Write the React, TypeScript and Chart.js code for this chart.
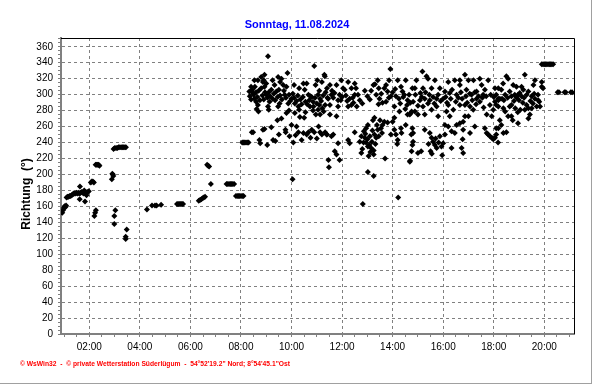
import React, { useEffect, useRef } from 'react';
import { Chart, registerables } from 'chart.js';

Chart.register(...registerables);

const TITLE = 'Sonntag, 11.08.2024';
const Y_TITLE = 'Richtung  (°)';
const FOOTER = '© WsWin32  -  © private Wetterstation Süderlügum  -  54°52\'19.2" Nord; 8°54\'45.1"Ost';

// axis ranges (hours of day / degrees)
const X_MIN = 0.88;
const X_MAX = 21.175;
const Y_MIN = 0;
const Y_MAX = 371;

// tick labels
const X_LABEL_HOURS = [2, 4, 6, 8, 10, 12, 14, 16, 18, 20];
const X_LABELS = ['02:00', '04:00', '06:00', '08:00', '10:00', '12:00', '14:00', '16:00', '18:00', '20:00'];
const Y_LABEL_VALUES = [0, 20, 40, 60, 80, 100, 120, 140, 160, 180, 200, 220, 240, 260, 280, 300, 320, 340, 360];

// wind direction readings: [hour of day, degrees]
const night: [number, number][] = [
  [0.93, 152], [0.96, 155], [0.99, 158], [1.02, 160], [1.05, 159], [1.08, 161],
  [1.1, 171], [1.14, 172], [1.18, 172], [1.22, 173], [1.26, 173], [1.3, 174], [1.34, 175], [1.38, 176],
  [1.42, 176], [1.46, 176], [1.5, 177], [1.54, 176], [1.58, 177], [1.62, 176], [1.66, 177], [1.7, 178],
  [1.74, 177], [1.78, 176], [1.82, 177], [1.86, 178], [1.9, 177], [1.94, 178], [1.98, 179],
  [1.63, 185], [1.62, 169], [1.83, 166], [1.89, 174], [1.8, 180],
  [2.06, 190], [2.1, 191], [2.14, 191], [2.18, 190],
  [2.25, 212], [2.29, 212], [2.33, 212], [2.37, 212], [2.4, 211],
  [2.2, 148], [2.23, 152], [2.26, 155],
  [2.89, 194], [2.91, 201], [2.93, 200], [2.95, 198],
  [2.99, 148], [2.99, 138], [3.03, 155],
  [2.96, 232], [3.01, 233], [3.06, 233], [3.11, 233], [3.16, 234], [3.21, 234], [3.26, 234],
  [3.31, 234], [3.36, 234], [3.41, 234], [3.45, 234],
  [3.48, 131], [3.44, 122], [3.44, 119],
];

const morning: [number, number][] = [
  [4.28, 156], [4.48, 161], [4.6, 161], [4.66, 161], [4.84, 162],
  [5.47, 163], [5.51, 163], [5.55, 163], [5.59, 163], [5.63, 163], [5.67, 163], [5.71, 163],
  [6.33, 167], [6.38, 168], [6.43, 169], [6.48, 170], [6.53, 171], [6.58, 172],
  [6.66, 212], [6.7, 211], [6.74, 210],
  [6.81, 188],
  [7.43, 188], [7.48, 188], [7.53, 188], [7.58, 188], [7.63, 188], [7.68, 188], [7.73, 188],
  [7.8, 173], [7.85, 173], [7.9, 173], [7.95, 173], [8.0, 173], [8.05, 173], [8.1, 173],
  [8.05, 240], [8.1, 240], [8.15, 240], [8.2, 240], [8.25, 240], [8.3, 240],
  [8.48, 253],
];

const forenoon: [number, number][] = [
  [9.07, 348], [10.9, 336], [10.04, 194],
  [8.93, 325], [8.8, 322], [8.53, 318], [8.67, 318], [8.87, 316], [8.4, 310], [8.33, 304], [8.47, 302],
  [8.53, 295], [8.6, 291], [8.67, 287], [8.69, 279], [8.8, 308], [8.93, 310], [9.0, 300], [9.2, 306],
  [9.13, 291], [9.07, 285], [9.33, 312], [9.47, 322], [9.6, 320], [9.84, 327], [9.67, 312], [9.73, 300],
  [9.53, 289], [9.47, 285], [9.87, 289], [10.0, 295], [10.13, 289], [10.27, 285], [10.47, 314], [10.6, 314],
  [10.67, 300], [10.8, 297], [10.73, 285], [10.87, 285], [11.0, 289], [11.13, 295], [11.2, 316], [11.3, 325],
  [11.4, 308], [11.33, 287], [11.27, 279], [10.96, 275], [11.13, 275],
  [9.44, 268], [9.6, 270], [9.8, 277], [10.33, 272], [10.5, 271], [10.13, 277],
  [8.35, 298], [8.4, 294], [8.45, 306], [8.5, 300], [8.55, 310], [8.6, 303], [8.65, 297], [8.7, 305],
  [8.75, 293], [8.85, 299], [8.9, 294], [8.95, 303], [9.05, 296], [9.1, 303], [9.15, 298], [9.25, 295],
  [9.3, 301], [9.35, 293], [9.4, 304], [9.45, 297], [9.5, 306], [9.55, 299], [9.62, 294], [9.7, 305],
  [9.78, 296], [9.9, 300], [9.95, 292], [10.05, 301], [10.1, 296], [10.2, 292], [10.25, 299], [10.35, 294],
  [10.4, 288], [10.45, 297], [10.55, 291], [10.62, 288], [10.7, 293], [10.75, 298], [10.85, 291], [10.93, 296],
  [11.05, 300], [11.1, 287], [11.17, 292], [11.25, 299], [11.35, 303], [11.42, 296],
  [8.62, 282], [9.1, 281], [9.9, 280], [10.3, 281], [10.55, 278], [10.85, 280], [11.05, 281], [11.22, 283],
  [8.9, 318], [9.0, 314], [9.25, 318], [9.55, 316], [9.8, 310], [10.1, 312], [10.3, 308], [10.52, 306],
  [10.95, 312], [11.02, 318], [11.1, 305],
  [8.43, 253], [8.87, 256], [8.93, 257], [9.2, 259], [8.73, 243], [8.76, 239], [9.04, 237], [9.27, 243],
  [9.36, 242], [9.76, 256], [9.77, 253], [10.07, 240], [10.2, 260], [10.27, 253], [10.16, 249], [10.4, 243],
  [10.47, 252], [10.67, 253], [10.6, 250], [10.8, 256], [10.9, 253], [11.07, 260], [11.13, 253], [11.2, 250],
  [11.33, 253], [11.4, 250],
  [9.5, 250], [9.92, 248], [10.0, 262], [10.75, 246], [11.0, 245],
];

const midday: [number, number][] = [
  [13.91, 332], [11.32, 323], [11.52, 312], [11.78, 312], [11.97, 318], [12.24, 316], [12.5, 314], [12.04, 308],
  [12.1, 306], [12.37, 308], [12.55, 308], [12.5, 300], [12.63, 300], [12.7, 293], [12.3, 295], [12.24, 285],
  [12.37, 287], [11.84, 293], [11.95, 293], [11.58, 300], [11.45, 295], [11.52, 287], [11.84, 285], [11.52, 275],
  [11.78, 273], [13.0, 298], [13.24, 312], [13.41, 318], [13.45, 308], [13.35, 300], [13.48, 295], [13.44, 288],
  [13.67, 308], [13.74, 312], [13.8, 304], [13.86, 318], [13.74, 291], [13.93, 298], [14.13, 298], [14.07, 285],
  [14.2, 318], [14.33, 310], [14.39, 304], [14.46, 300], [14.52, 318], [14.59, 293], [14.57, 287], [14.27, 279],
  [14.07, 271], [14.0, 266], [14.59, 275], [14.72, 277], [14.78, 308],
  [11.6, 305], [11.65, 296], [11.7, 302], [11.9, 300], [12.0, 297], [12.15, 299], [12.2, 292], [12.42, 296],
  [12.45, 290], [12.58, 285], [12.8, 289], [12.9, 305], [13.1, 294], [13.15, 305], [13.3, 313], [13.55, 301],
  [13.6, 290], [13.85, 296], [14.0, 303], [14.1, 307], [14.25, 295], [14.3, 289], [14.42, 297], [14.5, 282],
  [14.65, 300], [14.7, 290],
  [13.02, 203], [13.25, 198], [11.48, 209], [11.46, 218], [12.82, 163], [14.22, 171],
  [11.71, 229], [11.78, 225], [11.9, 218], [11.65, 250], [11.39, 250], [11.58, 248], [11.84, 239], [12.24, 243],
  [12.3, 239], [12.5, 253], [12.7, 241], [12.76, 227], [12.76, 248], [12.86, 254], [12.95, 258], [13.02, 262],
  [13.22, 268], [13.28, 271], [12.9, 246], [12.95, 240], [13.02, 235], [13.08, 237], [13.15, 233], [13.05, 223],
  [13.25, 225], [13.25, 230], [13.28, 250], [13.41, 256], [13.54, 258], [13.6, 262], [13.67, 266], [13.35, 246],
  [13.7, 220], [13.8, 265], [13.93, 250], [14.07, 256], [14.13, 250], [14.2, 243], [14.18, 238], [14.35, 252],
  [14.33, 258], [14.52, 262], [14.69, 217], [14.74, 250], [14.78, 258],
  [12.8, 232], [12.85, 240], [12.92, 251], [13.0, 244], [13.1, 248], [13.18, 241], [13.12, 228], [13.2, 255],
  [13.32, 238], [13.38, 262], [13.45, 248], [13.5, 268], [13.58, 252],
];

const afternoon: [number, number][] = [
  [15.18, 329], [15.34, 323], [14.94, 318], [15.4, 320], [15.67, 318], [14.88, 308], [15.2, 308], [15.54, 308],
  [15.87, 308], [16.07, 304], [16.2, 316], [16.46, 318], [16.66, 318], [16.66, 312], [16.86, 325], [17.0, 318],
  [17.2, 318], [17.45, 320], [17.78, 318], [17.52, 312], [17.32, 304], [17.12, 300], [16.92, 306], [16.53, 300],
  [16.26, 302], [16.0, 295], [15.74, 295], [15.47, 293], [15.27, 295], [15.08, 293], [14.81, 291], [15.2, 285],
  [14.88, 279], [14.68, 275], [14.75, 279], [15.0, 275], [15.27, 275], [15.54, 281], [15.74, 285], [15.8, 273],
  [16.2, 287], [16.4, 281], [16.26, 273], [16.13, 279], [16.66, 287], [16.86, 287], [17.06, 285], [17.19, 281],
  [17.0, 273], [17.32, 295], [17.58, 300], [17.65, 306], [17.72, 275], [17.92, 273], [17.98, 281], [18.05, 291],
  [18.18, 295], [18.05, 308],
  [14.9, 300], [15.0, 286], [15.1, 302], [15.15, 297], [15.3, 303], [15.4, 289], [15.45, 300], [15.6, 297],
  [15.65, 289], [15.8, 300], [15.9, 292], [16.1, 297], [16.15, 290], [16.3, 295], [16.35, 306], [16.5, 291],
  [16.6, 296], [16.7, 303], [16.75, 295], [16.9, 298], [16.95, 290], [17.05, 301], [17.15, 293], [17.25, 303],
  [17.3, 288], [17.4, 298], [17.45, 291], [17.55, 296], [17.6, 284], [17.7, 298], [17.85, 287], [17.88, 300],
  [18.0, 297], [18.1, 300],
  [14.68, 216], [14.75, 229], [14.81, 252], [14.81, 241], [14.78, 237], [15.0, 227], [15.13, 229], [15.27, 256],
  [15.47, 252], [15.54, 246], [15.6, 241], [15.5, 229], [15.67, 237], [15.74, 233], [15.93, 235], [16.0, 239],
  [16.07, 250], [15.87, 248], [15.96, 224], [16.07, 262], [16.2, 260], [16.33, 254], [16.33, 233], [16.46, 252],
  [16.53, 262], [16.66, 264], [16.79, 266], [16.86, 273], [16.79, 256], [16.77, 244], [16.73, 233], [16.79, 227],
  [17.06, 252], [17.25, 260], [17.65, 258], [17.72, 252], [17.78, 250], [17.85, 248], [17.92, 246], [17.98, 244],
  [18.05, 246], [18.18, 258],
  [15.42, 238], [15.55, 226], [15.7, 245], [15.82, 240],
];

const evening: [number, number][] = [
  [19.9, 338], [19.95, 338], [20.0, 338], [20.05, 338], [20.1, 338], [20.15, 338], [20.2, 338], [20.25, 338],
  [20.3, 338], [20.35, 338],
  [20.53, 303], [20.58, 303], [20.8, 303], [20.85, 303], [21.05, 303], [21.1, 303],
  [19.23, 325], [19.63, 318], [19.57, 312], [19.9, 310], [19.95, 308], [19.9, 316], [18.5, 323], [18.57, 320],
  [18.37, 314], [18.18, 308], [18.3, 306], [18.77, 312], [18.9, 310], [19.1, 310], [19.17, 306], [18.63, 304],
  [18.83, 300], [18.96, 300], [19.03, 302], [19.3, 300], [19.37, 304], [19.5, 298], [19.63, 295], [19.76, 293],
  [19.7, 285], [19.83, 285], [19.5, 283], [19.37, 283], [19.3, 287], [19.23, 281], [19.37, 270], [19.43, 275],
  [18.96, 264], [18.7, 273], [18.57, 273], [18.63, 285], [18.7, 287], [18.4, 293], [18.33, 295], [18.24, 295],
  [18.18, 293], [18.1, 287], [18.18, 285], [18.38, 283], [18.45, 279], [18.24, 268], [18.1, 258], [18.1, 250],
  [18.38, 252], [18.5, 253], [18.17, 240],
  [18.45, 300], [18.55, 296], [18.7, 298], [18.8, 292], [18.9, 296], [19.0, 293], [19.1, 298], [19.15, 290],
  [19.2, 296], [19.45, 292], [19.55, 289], [19.6, 301], [19.75, 300], [19.8, 291], [18.85, 283], [18.95, 278],
  [19.05, 281], [18.3, 262], [18.75, 268],
];

const SEGMENTS = [night, morning, forenoon, midday, afternoon, evening];

const FONT = '"Liberation Sans", Arial, sans-serif';

const decorPlugin = {
  id: 'decor',
  afterDraw(chart: any) {
    const { ctx, chartArea } = chart;
    ctx.save();
    // top & right plot border
    ctx.strokeStyle = '#000';
    ctx.lineWidth = 1;
    ctx.beginPath();
    ctx.moveTo(chartArea.left, Math.floor(chartArea.top) + 0.5);
    ctx.lineTo(Math.floor(chartArea.right) + 0.5, Math.floor(chartArea.top) + 0.5);
    ctx.lineTo(Math.floor(chartArea.right) + 0.5, chartArea.bottom);
    ctx.stroke();
    // outer frame (right, bottom)
    ctx.fillStyle = '#a0a0a0';
    ctx.fillRect(591, 0, 1, 384);
    ctx.fillRect(0, 383, 592, 1);
    // title
    ctx.fillStyle = '#0000ff';
    ctx.font = 'bold 11px ' + FONT;
    ctx.textAlign = 'center';
    ctx.textBaseline = 'alphabetic';
    ctx.fillText(TITLE, 297, 28);
    // y title
    ctx.save();
    ctx.translate(27, 194);
    ctx.rotate(-Math.PI / 2);
    ctx.fillStyle = '#000';
    ctx.font = 'bold 12px ' + FONT;
    ctx.textAlign = 'center';
    ctx.textBaseline = 'middle';
    ctx.fillText(Y_TITLE, 0, 0);
    ctx.restore();
    // footer
    ctx.fillStyle = '#ff0000';
    ctx.font = 'bold 7px ' + FONT;
    ctx.textAlign = 'left';
    ctx.textBaseline = 'middle';
    ctx.fillText(FOOTER, 20, 364, 270);
    ctx.restore();
  },
};

export default function App() {
  const canvasRef = useRef<HTMLCanvasElement>(null);

  useEffect(() => {
    const canvas = canvasRef.current;
    if (!canvas) return;

    const xTicks: number[] = [];
    for (let v = 1; v <= 21; v += 0.5) xTicks.push(v);
    const yTicks: number[] = [];
    for (let v = 0; v <= 370; v += 5) yTicks.push(v);

    const isMajorX = (v: number) => X_LABEL_HOURS.indexOf(v) >= 0;
    const isMajorY = (v: number) => Y_LABEL_VALUES.indexOf(v) >= 0;

    const chart = new Chart(canvas, {
      type: 'scatter',
      data: {
        datasets: SEGMENTS.map((seg) => ({
          data: seg.map(([x, y]) => ({ x, y })),
          pointStyle: 'rectRot',
          pointRadius: 3,
          pointBorderWidth: 0,
          pointBackgroundColor: '#000',
          pointBorderColor: '#000',
          showLine: false,
        })),
      },
      options: {
        responsive: false,
        animation: false,
        events: [],
        layout: { padding: { top: 38, right: 18, left: 0, bottom: 0 } },
        plugins: {
          legend: { display: false },
          tooltip: { enabled: false },
          title: { display: false },
        },
        scales: {
          x: {
            type: 'linear',
            min: X_MIN,
            max: X_MAX,
            afterBuildTicks: (s: any) => {
              s.ticks = xTicks.map((value) => ({ value }));
            },
            afterFit: (s: any) => {
              s.height = 50;
            },
            ticks: {
              autoSkip: false,
              maxRotation: 0,
              minRotation: 0,
              padding: 4,
              color: '#000',
              font: { family: FONT, size: 10 },
              callback: (v: any) => {
                const i = X_LABEL_HOURS.indexOf(Number(v));
                return i >= 0 ? X_LABELS[i] : '';
              },
            },
            grid: {
              color: (c: any) => (c.tick && isMajorX(c.tick.value) ? '#808080' : 'rgba(0,0,0,0)'),
              lineWidth: 1,
              tickColor: '#808080',
              tickLength: 3,
            },
            border: { color: '#808080', width: 2, dash: [3, 3] },
          },
          y: {
            type: 'linear',
            min: Y_MIN,
            max: Y_MAX,
            afterBuildTicks: (s: any) => {
              s.ticks = yTicks.map((value) => ({ value }));
            },
            afterFit: (s: any) => {
              s.width = 61;
            },
            ticks: {
              autoSkip: false,
              padding: 5,
              color: '#000',
              font: { family: FONT, size: 10 },
              callback: (v: any) => (isMajorY(Number(v)) ? String(v) : ''),
            },
            grid: {
              color: (c: any) =>
                c.tick && isMajorY(c.tick.value) && c.tick.value > 0 ? '#808080' : 'rgba(0,0,0,0)',
              lineWidth: 1,
              tickColor: '#808080',
              tickLength: 3,
            },
            border: { color: '#808080', width: 2, dash: [3, 3] },
          },
        },
      },
      plugins: [decorPlugin],
    } as any);

    return () => chart.destroy();
  }, []);

  return (
    <div style={{ position: 'absolute', left: 0, top: 0, width: 592, height: 384, background: '#fff' }}>
      <canvas ref={canvasRef} width={592} height={384} style={{ display: 'block' }} />
    </div>
  );
}
